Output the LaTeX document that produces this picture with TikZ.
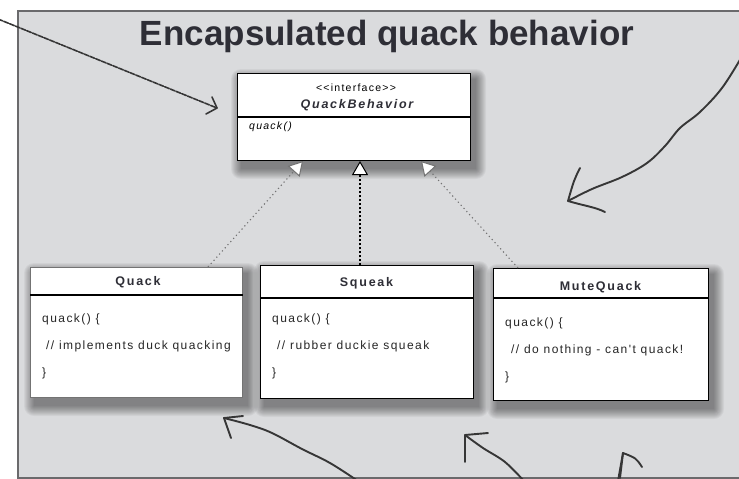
\documentclass[tikz,border=0pt]{standalone}
\usepackage{fontspec}
\setmainfont{Liberation Sans}
\newfontfamily\umlfont[LetterSpace=12]{Liberation Sans}
\newfontfamily\umlheadfont[LetterSpace=14]{Liberation Sans}
\usetikzlibrary{arrows.meta,backgrounds}
\definecolor{panel}{HTML}{DADBDD}
\definecolor{panelborder}{HTML}{6A6A6C}
\definecolor{ink}{HTML}{2E2E36}
\definecolor{pen}{HTML}{363636}
\newcommand{\boxshadow}[1]{%
  \begin{pgfonlayer}{background}
  \foreach \k in {0,...,10}{%
    \fill[black, opacity=0.045, rounded corners=\k pt]
      ([xshift={(4-\k)*1pt}, yshift={(-6+\k)*1pt}]#1.north west) rectangle
      ([xshift={(5+\k)*1pt}, yshift={(-8-\k)*1pt}]#1.south east);}
  \end{pgfonlayer}}
\begin{document}
\begin{tikzpicture}[x=1pt,y=-1pt,
  umlbox/.style={draw=black, line width=1pt, fill=white, inner sep=0pt, anchor=north west},
  divider/.style={draw=black, line width=1.2pt},
  umltext/.style={font=\umlfont\fontsize{10.5}{12}\selectfont, inner sep=0pt, text=black},
  umlhead/.style={font=\umlheadfont\bfseries\fontsize{12.5}{14}\selectfont, inner sep=0pt, text=ink},
  umlbody/.style={font=\umlfont\fontsize{12}{27}\selectfont, inner sep=0pt, text=black!85, align=left, anchor=north west},
  gen/.style={-{Triangle[open, length=14pt, width=16pt, fill=white, line width=1pt]}},
  sidedots/.style={gen, draw=black!55, line width=1.1pt, dash pattern=on 1.2pt off 3pt},
  middots/.style={gen, draw=black, line width=1.4pt, dash pattern=on 1.8pt off 2.2pt},
  hand/.style={draw=pen, line width=1.9pt, line cap=round, line join=round}
]
\useasboundingbox (0,0) rectangle (739,479);
\begin{pgfonlayer}{background}
\fill[white] (0,0) rectangle (739,479);
\fill[panel] (18,11) rectangle (745,478);
\end{pgfonlayer}
\draw[panelborder, line width=2.5pt] (745,11) -- (18,11) -- (18,478) -- (745,478);

\node[font=\bfseries\fontsize{35}{40}\selectfont, text=ink, inner sep=0pt] (title) at (387,36) {Encapsulated quack behavior};

% interface box
\node[umlbox, minimum width=233pt, minimum height=87pt] (qb) at (237,73) {};
\boxshadow{qb}
\draw[divider] ([yshift=-44pt]qb.north west) -- ([yshift=-44pt]qb.north east);
\node[umltext] (qbst) at (356,88) {<<interface>>};
\node[umlhead, font=\umlheadfont\bfseries\itshape\fontsize{12.5}{14}\selectfont] (qbname) at (357,105) {QuackBehavior};
\node[umltext, font=\umlfont\itshape\fontsize{10.5}{12}\selectfont, anchor=west] (qbop) at (249,127) {quack()};

% Quack
\node[umlbox, draw=black!55, minimum width=212pt, minimum height=130pt] (quack) at (30,267) {};
\boxshadow{quack}
\draw[divider] ([yshift=-28pt]quack.north west) -- ([yshift=-28pt]quack.north east);
\node[umlhead] (quackname) at (138,282) {Quack};
\node[umlbody] (quackbody) at (42,314) {quack() \{\\\hspace*{4pt}// implements duck quacking\\\}};

% Squeak
\node[umlbox, minimum width=213pt, minimum height=133pt] (squeak) at (260,265) {};
\boxshadow{squeak}
\draw[divider] ([yshift=-33pt]squeak.north west) -- ([yshift=-33pt]squeak.north east);
\node[umlhead] (squeakname) at (366.5,283) {Squeak};
\node[umlbody] (squeakbody) at (272,314) {quack() \{\\\hspace*{5pt}// rubber duckie squeak\\\}};

% MuteQuack
\node[umlbox, minimum width=215pt, minimum height=132pt] (mute) at (493,268) {};
\boxshadow{mute}
\draw[divider] ([yshift=-30pt]mute.north west) -- ([yshift=-30pt]mute.north east);
\node[umlhead] (mutename) at (600.5,287) {MuteQuack};
\node[umlbody] (mutebody) at (505,318) {quack() \{\\\hspace*{6pt}// do nothing - can't quack!\\\}};

% generalization connectors
\draw[sidedots] ([xshift=-35pt]quack.north east) -- (qb.south -| 303,0);
\draw[middots] (squeak.north -| 360,0) -- (qb.south -| 360,0);
\draw[sidedots] ([xshift=25pt]mute.north west) -- (qb.south -| 421,0);

% hand-drawn arrows
\coordinate (a1s) at (-2,19);
\coordinate (a1t) at (217,108);
\draw[hand, line width=1.6pt, dash pattern=on 5pt off 1.2pt] (a1s) -- (a1t);
\draw[hand, line width=1.6pt] (212,97) -- (a1t) -- (206,114);

\coordinate (a2s) at (741,58);
\coordinate (a2t) at (568,201);
\draw[hand] plot[smooth, tension=0.6] coordinates {(a2s) (722,88) (700,112) (680,128) (665,146) (647,163) (622,177) (592,189) (a2t)};
\draw[hand] (580,168) .. controls (574,180) .. (a2t) .. controls (585,206) and (595,207) .. (605,212);

\coordinate (a3s) at (358,481);
\coordinate (a3t) at (224,418);
\draw[hand] plot[smooth, tension=0.6] coordinates {(a3s) (330,463) (302,449) (272,433) (250,425) (a3t)};
\draw[hand] (243,416) -- (a3t) -- (231,438);

\coordinate (a4s) at (524,481);
\coordinate (a4t) at (465,435);
\draw[hand] plot[smooth, tension=0.6] coordinates {(a4s) (505,462) (483,448) (a4t)};
\draw[hand] (488,433) -- (a4t) -- (465,462);

\coordinate (a5s) at (618,481);
\coordinate (a5t) at (623,453);
\draw[hand] (a5s) -- (a5t);
\draw[hand] (642,467) .. controls (636,458) .. (a5t) -- (620,478);
\end{tikzpicture}
\end{document}
